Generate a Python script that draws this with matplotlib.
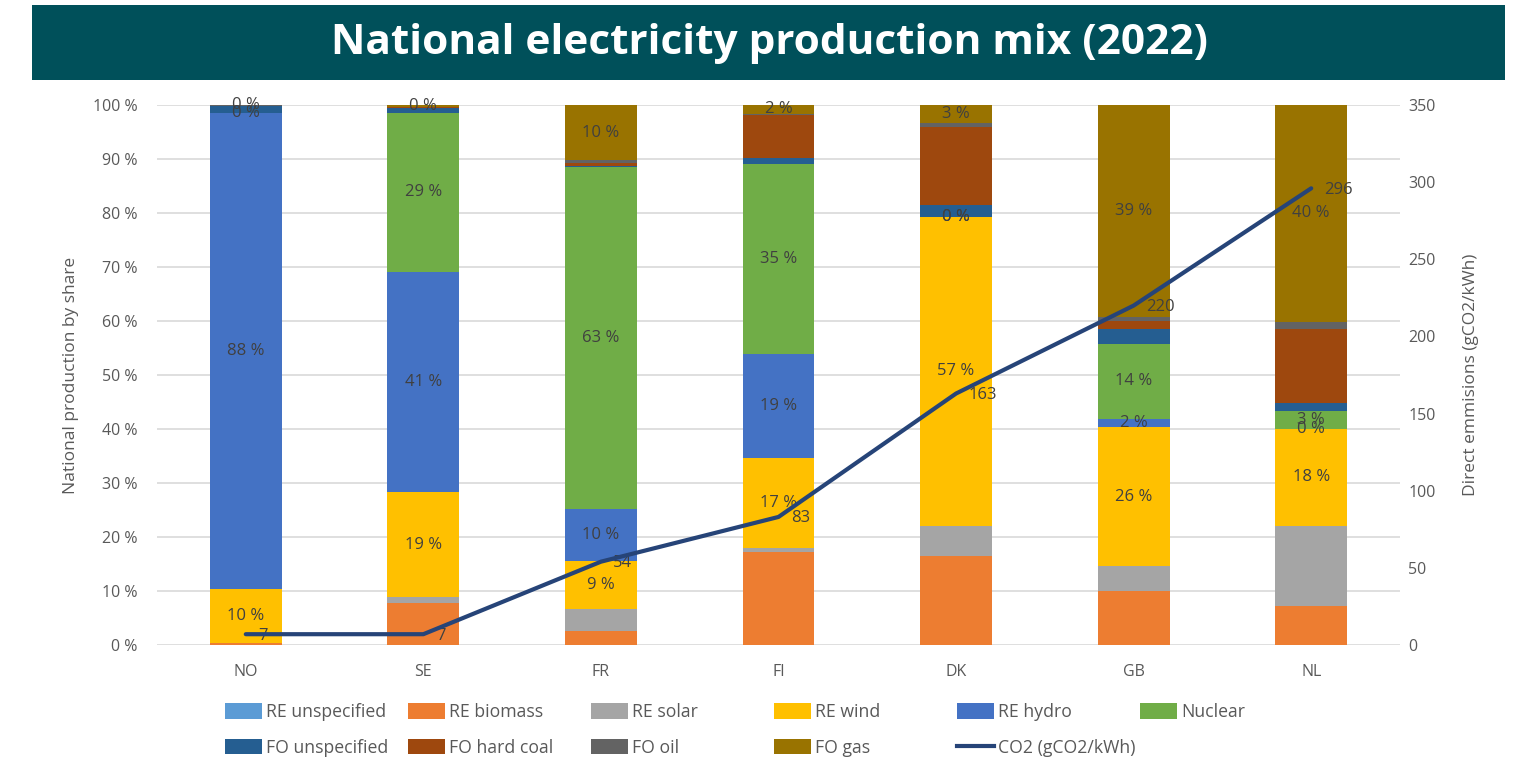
import numpy as np
import matplotlib.pyplot as plt
from matplotlib.patches import Rectangle, Patch
from matplotlib.lines import Line2D

# ==========================================
# DATA (share of national production, %)
# ==========================================

countries = ["NO", "SE", "FR", "FI", "DK", "GB", "NL"]

re_unspecified = [0.0, 0.0, 0.0, 0.0, 0.0, 0.0, 0.0]
re_biomass = [0.3, 7.8, 2.6, 17.3, 16.5, 10.0, 7.3]
re_solar = [0.0, 1.1, 4.0, 0.6, 5.6, 4.6, 14.8]
re_wind = [10.1, 19.4, 8.9, 16.8, 57.2, 25.7, 17.9]
re_hydro = [88.1, 40.8, 9.7, 19.2, 0.0, 1.6, 0.0]
nuclear = [0.0, 29.4, 63.4, 35.2, 0.0, 13.9, 3.4]
fo_unspecified = [1.4, 1.0, 0.1, 1.0, 2.2, 2.7, 1.4]
fo_hard_coal = [0.0, 0.1, 0.6, 8.1, 14.5, 1.5, 13.7]
fo_oil = [0.1, 0.1, 0.5, 0.2, 0.6, 0.7, 1.4]
fo_gas = [0.0, 0.3, 10.2, 1.6, 3.4, 39.3, 40.1]

co2 = [7, 7, 54, 83, 163, 220, 296]

series = [
    ("RE unspecified", re_unspecified, "#5B9BD5", False),
    ("RE biomass", re_biomass, "#ED7D31", False),
    ("RE solar", re_solar, "#A5A5A5", False),
    ("RE wind", re_wind, "#FFC000", True),
    ("RE hydro", re_hydro, "#4472C4", True),
    ("Nuclear", nuclear, "#70AD47", True),
    ("FO unspecified", fo_unspecified, "#255E91", False),
    ("FO hard coal", fo_hard_coal, "#9E480E", False),
    ("FO oil", fo_oil, "#636363", False),
    ("FO gas", fo_gas, "#997300", True),
]

CO2_COLOR = "#264478"
TXT = "#595959"
LBL = "#404040"

plt.rcParams["font.family"] = ["Open Sans", "DejaVu Sans"]

# ==========================================
# FIGURE
# ==========================================

fig = plt.figure(figsize=(15.2, 7.63), dpi=100)

# title banner
fig.patches.append(Rectangle((32 / 1520, 1 - 80 / 763), 1473 / 1520, 75 / 763,
                             transform=fig.transFigure, facecolor="#00505A",
                             edgecolor="none", zorder=0))
fig.text(0.506, 1 - 43 / 763, "National electricity production mix (2022)",
         color="white", fontsize=30.5, fontweight="bold", ha="center", va="center")

ax = fig.add_axes([157 / 1520, 1 - 645 / 763, 1243 / 1520, 540 / 763])

x = np.arange(len(countries))
bottom = np.zeros(len(countries))
handles = []

for nome, vals, cor, rotulo in series:
    vals = np.array(vals)
    ax.bar(x, vals, bottom=bottom, width=0.405, color=cor, linewidth=0, zorder=2)
    if rotulo:
        for xi, b, v in zip(x, bottom, vals):
            ax.text(xi, b + v / 2, f"{v:.0f} %", ha="center", va="center",
                    fontsize=12, color=LBL, zorder=5)
    handles.append(Patch(facecolor=cor, label=nome))
    bottom = bottom + vals

ax.set_xlim(-0.5, len(countries) - 0.5)
ax.set_ylim(0, 100)
ax.set_yticks(np.arange(0, 101, 10))
ax.set_yticklabels([f"{v} %" for v in range(0, 101, 10)])
ax.set_xticks(x)
ax.set_xticklabels(countries)
ax.grid(axis="y", color="#D9D9D9", linewidth=1.2, zorder=0)
ax.set_axisbelow(True)
for s in ax.spines.values():
    s.set_visible(False)
ax.tick_params(axis="both", length=0, labelsize=11.5, labelcolor=TXT)
ax.tick_params(axis="y", pad=14)
ax.tick_params(axis="x", pad=14)
ax.set_ylabel("National production by share", fontsize=12.5, color=TXT, labelpad=10)

# ==========================================
# CO2 LINE
# ==========================================

ax2 = ax.twinx()
ax2.plot(x, co2, color=CO2_COLOR, linewidth=3, solid_capstyle="round", zorder=6)
for xi, c in zip(x, co2):
    ax2.annotate(f"{c}", (xi, c), xytext=(9, -1), textcoords="offset points",
                 ha="left", va="center", fontsize=12, color=LBL)
ax2.set_ylim(0, 350)
ax2.set_yticks(np.arange(0, 351, 50))
for s in ax2.spines.values():
    s.set_visible(False)
ax2.tick_params(axis="y", length=0, labelsize=11.5, labelcolor=TXT, pad=6)
ax2.set_ylabel("Direct emmisions (gCO2/kWh)", fontsize=12.5, color=TXT, labelpad=20)

handles.append(Line2D([0], [0], color=CO2_COLOR, linewidth=3, label="CO2 (gCO2/kWh)"))

# ==========================================
# LEGEND (one legend per column, equal spacing)
# ==========================================

for j in range(6):
    col = [handles[j]]
    if j + 6 < len(handles):
        col.append(handles[j + 6])
    fig.legend(handles=col, loc="upper left",
               bbox_to_anchor=((225 + 183 * j) / 1520, 1 - 703 / 763),
               ncol=1, frameon=False, fontsize=12.7, labelcolor=TXT,
               handlelength=2.1, handleheight=1.0, handletextpad=0.25,
               labelspacing=1.0, borderaxespad=0, borderpad=0)

fig.savefig("out.png", dpi=100)
plt.close()
